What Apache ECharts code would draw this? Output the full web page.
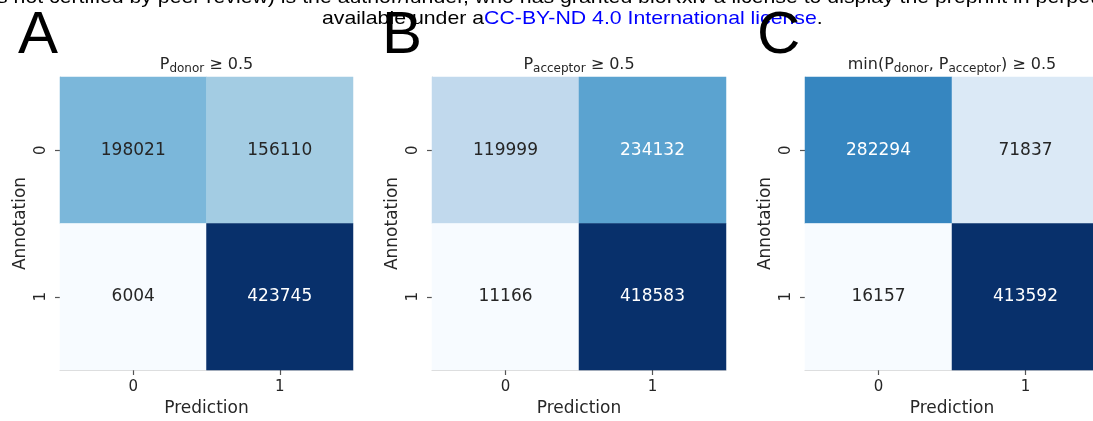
<!DOCTYPE html>
<html>
<head>
<meta charset="utf-8">
<script src="https://cdn.jsdelivr.net/npm/echarts@6/dist/echarts.min.js"></script>
<style>
  html, body { margin: 0; padding: 0; background: #ffffff; }
  #chart { width: 1093px; height: 421px; }
</style>
</head>
<body>
<div id="chart"></div>
<script>
// Confusion matrices: rows = annotation (0, 1), columns = prediction (0, 1)
const predictionLabels = ['0', '1'];
const annotationLabels = ['0', '1'];
const donorCounts = [[198021, 156110], [6004, 423745]];
const acceptorCounts = [[119999, 234132], [11166, 418583]];
const combinedCounts = [[282294, 71837], [16157, 413592]];
const panelLetters = ['A', 'B', 'C'];

// matplotlib "Blues" colormap stops
const blues = ['#f7fbff', '#deebf7', '#c6dbef', '#9ecae1', '#6baed6', '#4292c6', '#2171b5', '#08519c', '#08306b'];

const TEXT_DARK = '#262626';
const SANS = 'DejaVu Sans';

function hexToRgb(h) {
  return [1, 3, 5].map(i => parseInt(h.substr(i, 2), 16) / 255);
}
function bluesAt(t) {
  const pos = Math.max(0, Math.min(1, t)) * (blues.length - 1);
  const i = Math.min(Math.floor(pos), blues.length - 2);
  const f = pos - i;
  const a = hexToRgb(blues[i]), b = hexToRgb(blues[i + 1]);
  return a.map((v, k) => v + (b[k] - v) * f);
}
function luminance(rgb) {
  const lin = rgb.map(c => c <= 0.03928 ? c / 12.92 : Math.pow((c + 0.055) / 1.055, 2.4));
  return 0.2126 * lin[0] + 0.7152 * lin[1] + 0.0722 * lin[2];
}

const panels = [
  { counts: donorCounts, grid: { left: 60, width: 293, top: 77, height: 293 },
    title: '{p|P}{s|donor}{p| ≥ 0.5}' },
  { counts: acceptorCounts, grid: { left: 432, width: 294, top: 77, height: 293 },
    title: '{p|P}{s|acceptor}{p| ≥ 0.5}' },
  { counts: combinedCounts, grid: { left: 805, width: 294, top: 77, height: 293 },
    title: '{p|min(P}{s|donor}{p|, P}{s|acceptor}{p|) ≥ 0.5}' }
];

const grids = [], xAxes = [], yAxes = [], series = [], visualMaps = [], graphics = [];

panels.forEach((p, idx) => {
  grids.push(Object.assign({ containLabel: false, outerBoundsMode: 'none' }, p.grid));
  xAxes.push({
    type: 'category', gridIndex: idx, data: predictionLabels,
    name: 'Prediction', nameLocation: 'middle', nameGap: 30,
    nameTextStyle: { fontFamily: SANS, fontSize: 17, color: TEXT_DARK },
    axisLine: { show: true, lineStyle: { color: '#d4d4d4', width: 1 } },
    axisTick: { show: true, alignWithLabel: true, length: 5, lineStyle: { color: '#555555', width: 1.2 } },
    axisLabel: { fontFamily: SANS, fontSize: 15, color: TEXT_DARK, margin: 10 },
    splitLine: { show: false }, splitArea: { show: false }
  });
  yAxes.push({
    type: 'category', gridIndex: idx, data: annotationLabels, inverse: true,
    name: 'Annotation', nameLocation: 'middle', nameGap: 31, nameRotate: 90,
    nameTextStyle: { fontFamily: SANS, fontSize: 17, color: TEXT_DARK },
    axisLine: { show: true, lineStyle: { color: '#d4d4d4', width: 1 } },
    axisTick: { show: true, alignWithLabel: true, length: 5, lineStyle: { color: '#555555', width: 1.2 } },
    axisLabel: { fontFamily: SANS, fontSize: 15, color: TEXT_DARK, rotate: 90, margin: 11 },
    splitLine: { show: false }, splitArea: { show: false }
  });

  const flat = p.counts.flat();
  const vmin = Math.min(...flat), vmax = Math.max(...flat);
  const data = [];
  p.counts.forEach((row, r) => {
    row.forEach((v, c) => {
      const lum = luminance(bluesAt((v - vmin) / (vmax - vmin)));
      data.push({ value: [c, r, v], label: { color: lum < 0.408 ? '#ffffff' : TEXT_DARK } });
    });
  });
  visualMaps.push({
    show: false, type: 'continuous', seriesIndex: idx, dimension: 2,
    min: vmin, max: vmax, inRange: { color: blues }
  });
  series.push({
    type: 'heatmap', xAxisIndex: idx, yAxisIndex: idx, data: data,
    label: { show: true, fontFamily: SANS, fontSize: 17, formatter: d => String(d.value[2]) },
    itemStyle: { borderWidth: 0 },
    emphasis: { disabled: true }
  });

  graphics.push({
    type: 'text', x: p.grid.left + p.grid.width / 2, y: 65, z: 10,
    style: {
      text: p.title, align: 'center', verticalAlign: 'middle',
      rich: {
        p: { fontFamily: SANS, fontSize: 16, fill: TEXT_DARK, lineHeight: 20, verticalAlign: 'middle' },
        s: { fontFamily: SANS, fontSize: 12, fill: TEXT_DARK, lineHeight: 11, verticalAlign: 'bottom' }
      }
    }
  });
});

// Panel letters
const letterX = [18, 382, 757];
panelLetters.forEach((L, i) => {
  graphics.push({
    type: 'text', x: letterX[i], y: 36, z: 20,
    style: { text: L, fontFamily: 'Liberation Sans', fontSize: 60, fill: '#000000', verticalAlign: 'middle' }
  });
});

// Preprint header lines
graphics.push({
  type: 'text', x: -3, y: -2, z: 15, scaleX: 1.12,
  style: {
    text: 's not certified by peer review) is the author/funder, who has granted bioRxiv a license to display the preprint in perpetuity. It is made',
    fontFamily: 'Liberation Sans', fontSize: 19, fill: '#000000', verticalAlign: 'middle'
  }
});
graphics.push({
  type: 'text', x: 322, y: 19, z: 15, scaleX: 1.12,
  style: {
    text: '{k|available under a}{b|CC-BY-ND 4.0 International license}{k|.}',
    verticalAlign: 'middle',
    rich: {
      k: { fontFamily: 'Liberation Sans', fontSize: 19, fill: '#000000' },
      b: { fontFamily: 'Liberation Sans', fontSize: 19, fill: '#0000ff' }
    }
  }
});

const chart = echarts.init(document.getElementById('chart'), null, { renderer: 'canvas' });
chart.setOption({
  animation: false,
  backgroundColor: '#ffffff',
  grid: grids, xAxis: xAxes, yAxis: yAxes,
  visualMap: visualMaps, series: series, graphic: graphics
});
</script>
</body>
</html>
